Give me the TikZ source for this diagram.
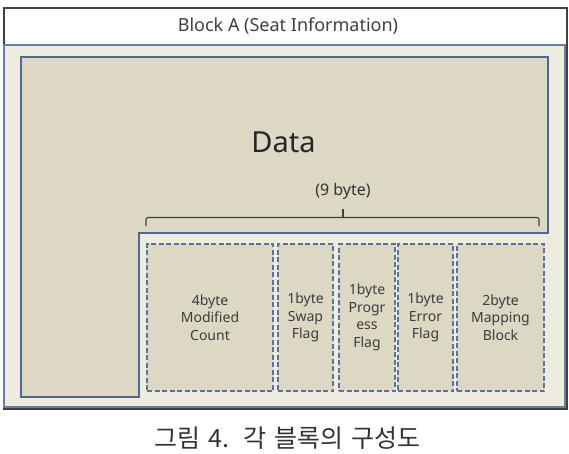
\documentclass[tikz,border=0pt]{standalone}
\usepackage{fontspec}
\setmainfont{Noto Sans}
\newfontfamily\cjk{Noto Sans CJK KR}
\definecolor{datafill}{HTML}{DCD8C4}
\definecolor{framefill}{HTML}{EEEBE1}
\definecolor{bordblue}{HTML}{4E6890}
\definecolor{dashblue}{HTML}{5A7399}
\definecolor{txtgray}{HTML}{3C3C3C}
\tikzset{
  fieldbox/.style={draw=dashblue, fill=datafill, line width=1.4pt,
    dash pattern=on 5pt off 2.5pt, minimum height=147pt, inner sep=0pt,
    align=center, font=\fontsize{14}{17.5}\selectfont, text=txtgray},
}
\begin{document}
\begin{tikzpicture}[x=1pt,y=1pt]
\useasboundingbox (0,0) rectangle (569,-453);
\clip (0,0) rectangle (569,-453);
% outer frame and title band
\draw[draw=black!75, line width=1.6pt, fill=white] (4,-8) rectangle (567,-409);
\node[font=\fontsize{18}{20}\selectfont, text=black!75] (title) at (288,-26) {Block A (Seat Information)};
% blue frame
\draw[draw=bordblue!85, line width=1.2pt, fill=framefill] (4,-45) rectangle (565,-407);
% data L-shape
\draw[draw=bordblue, line width=1.5pt, fill=datafill]
  (21,-57) -- (548,-57) -- (548,-233) -- (139,-233) -- (139,-397) -- (21,-397) -- cycle;
\node[font=\fontsize{29}{32}\selectfont, text=black!85] (data) at (283.5,-142) {Data};
\node[font=\fontsize{16}{18}\selectfont, text=black!80] (nine) at (343,-191) {(9 byte)};
% bracket
\coordinate (bl) at (146,-226);
\coordinate (br) at (539,-226);
\coordinate (bt) at (343,-209);
\draw[black!75, line width=1.1pt, rounded corners=2pt]
  (bl) -- (146,-217.5) -- (539,-217.5) -- (br);
\draw[black!75, line width=1.1pt] (bt) -- (343,-217.5);
% fields
\node[fieldbox, minimum width=126pt] (f1) at (210,-317.5) {4byte\\Modified\\Count};
\node[fieldbox, minimum width=55pt] (f2) at (305.5,-317.5) {1byte\\Swap\\Flag};
\node[fieldbox, minimum width=56pt] (f3) at (367,-317.5) {1byte\\Progr\\ess\\Flag};
\node[fieldbox, minimum width=55pt] (f4) at (425.5,-317.5) {1byte\\Error\\Flag};
\node[fieldbox, minimum width=87pt] (f5) at (500.5,-317.5) {2byte\\Mapping\\Block};
% caption
\node[font=\cjk\fontsize{25}{28}\selectfont, text=black!80, anchor=base] (cap) at (287.5,-447) {그림\hspace{8pt}4.\hspace{14pt}각\hspace{8pt}블록의\hspace{8pt}구성도};
\end{tikzpicture}
\end{document}
